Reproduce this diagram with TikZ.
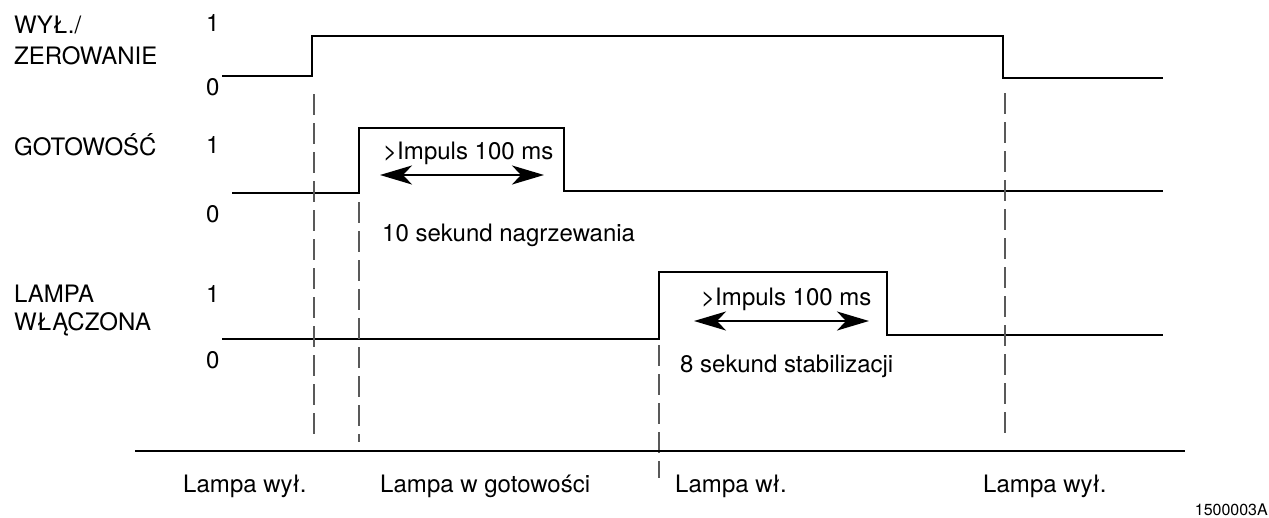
\documentclass[tikz,border=0pt]{standalone}
\usepackage{fontspec}
\setmainfont{TeX Gyre Heros}
\usetikzlibrary{arrows.meta}
\begin{document}
\begin{tikzpicture}[x=1pt,y=-1pt,
  lbl/.style={anchor=base west,inner sep=0pt,font=\fontsize{24}{28}\selectfont},
  code/.style={anchor=base east,inner sep=0pt,font=\fontsize{16}{18}\selectfont},
  sig/.style={line width=2.2pt,line join=miter},
  guide/.style={line width=2pt,draw=black!65,dash pattern=on 21pt off 8pt},
  axis/.style={line width=2.5pt},
  span/.style={line width=2.2pt,
    {Stealth[length=32pt,width=19pt,inset=9pt]}-{Stealth[length=32pt,width=19pt,inset=9pt]}}]
\useasboundingbox (0,0) rectangle (1269,517);

% signal names and levels
\node[lbl] (n1a) at (14,33) {WYŁ./};
\node[lbl] (n1b) at (14,64) {ZEROWANIE};
\node[lbl] (h1) at (206,31) {1};
\node[lbl] (l1) at (206,95) {0};

\node[lbl] (n2) at (14,155) {GOTOWOŚĆ};
\node[lbl] (h2) at (206,153) {1};
\node[lbl] (l2) at (206,222) {0};

\node[lbl] (n3a) at (14,302) {LAMPA};
\node[lbl] (n3b) at (14,330) {WŁĄCZONA};
\node[lbl] (h3) at (206,302) {1};
\node[lbl] (l3) at (206,368) {0};

% waveforms
\draw[sig] (222,76) -- (312,76) -- (312,36) -- (1003,36) -- (1003,78) -- (1163,78);
\draw[sig] (232,193) -- (359,193) -- (359,128) -- (564,128) -- (564,191) -- (1163,191);
\draw[sig] (222,339) -- (659,339) -- (659,272) -- (887,272) -- (887,335) -- (1163,335);

% transition guides
\draw[guide] (314,94) -- (314,437);
\draw[guide] (359,202) -- (359,442);
\draw[guide] (659,345) -- (659,478);
\draw[guide] (1005,93) -- (1005,438);

% pulse widths
\coordinate (a1l) at (380,175);
\coordinate (a1r) at (544,175);
\draw[span] (a1l) -- (a1r);
\node[lbl] (p1) at (383,159) {>Impuls 100 ms};
\node[lbl] (t1) at (382,241) {10 sekund nagrzewania};

\coordinate (a2l) at (694,321);
\coordinate (a2r) at (869,321);
\draw[span] (a2l) -- (a2r);
\node[lbl] (p2) at (701,305) {>Impuls 100 ms};
\node[lbl] (t2) at (680,372) {8 sekund stabilizacji};

% time axis and lamp states
\coordinate (ax0) at (135,451);
\coordinate (ax1) at (1185,451);
\draw[axis] (ax0) -- (ax1);
\node[lbl] (s1) at (183,492) {Lampa wył.};
\node[lbl] (s2) at (380,492) {Lampa w gotowości};
\node[lbl] (s3) at (675,492) {Lampa wł.};
\node[lbl] (s4) at (983,492) {Lampa wył.};

\node[code] (id) at (1268,515) {1500003A};
\end{tikzpicture}
\end{document}
